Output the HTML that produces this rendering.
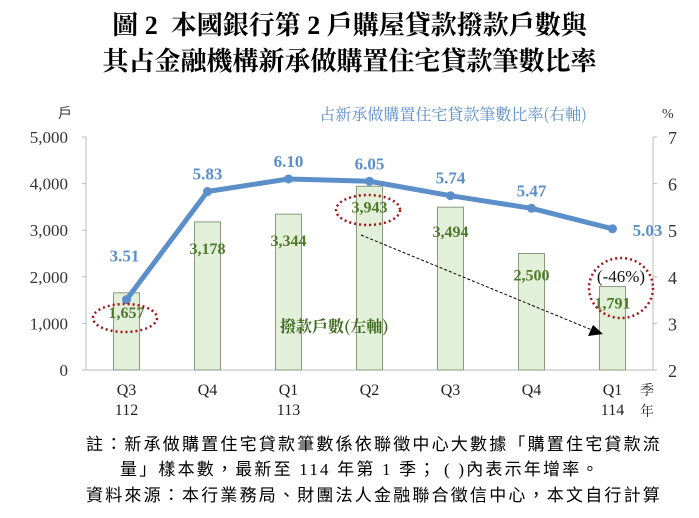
<!DOCTYPE html>
<html><head><meta charset="utf-8"><style>
body{margin:0;background:#fff;width:699px;height:518px;overflow:hidden;font-family:"Liberation Serif","Noto Serif CJK SC",serif}
.t{position:absolute;left:0;width:699px;text-align:center;font-weight:bold;font-size:26px;color:#000}
.n{position:absolute;font-size:17px;letter-spacing:2.2px;color:#000;font-family:"Liberation Serif","Noto Sans CJK TC",serif;white-space:nowrap}
</style></head><body>
<div class="t" style="top:5px">圖 2&nbsp; 本國銀行第 2 戶購屋貸款撥款戶數與</div>
<div class="t" style="top:41px">其占金融機構新承做購置住宅貸款筆數比率</div>
<svg id="c" width="699" height="518" style="position:absolute;left:0;top:0"></svg>
<div class="n" style="left:86px;top:430px">註：新承做購置住宅貸款筆數係依聯徵中心大數據「購置住宅貸款流</div>
<div class="n" style="left:120px;top:455px">量」樣本數，最新至 114 年第 1 季； ( )內表示年增率。</div>
<div class="n" style="left:86px;top:481px">資料來源：本行業務局、財團法人金融聯合徵信中心，本文自行計算</div>
<script>
const categories=["Q3","Q4","Q1","Q2","Q3","Q4","Q1"];
const years=["112","","113","","","","114"];
const counts=[1657,3178,3344,3943,3494,2500,1791];
const ratios=[3.51,5.83,6.10,6.05,5.74,5.47,5.03];
const leftTicks=[0,1000,2000,3000,4000,5000];
const rightTicks=[2,3,4,5,6,7];
const NS="http://www.w3.org/2000/svg",svg=document.getElementById('c');
const X0=86,X1=653,Y0=370,Y1=137;
const step=(X1-X0)/categories.length;
const xc=i=>X0+step*(i+0.5);
const yl=v=>Y0-(v/5000)*(Y0-Y1);
const yr=v=>Y0-((v-2)/5)*(Y0-Y1);
function mk(t,a,txt){const e=document.createElementNS(NS,t);for(const k in a)e.setAttribute(k,a[k]);if(txt!==undefined)e.textContent=txt;svg.appendChild(e);return e;}
const F='"Liberation Serif","Noto Serif CJK SC",serif';
let e;
e=mk('line',{x1:X0,y1:Y1,x2:X0,y2:Y0,stroke:'#bbb'});


e=mk('line',{x1:X1,y1:Y1,x2:X1,y2:Y0,stroke:'#bbb'});


e=mk('line',{x1:X0,y1:Y0,x2:X1,y2:Y0,stroke:'#bbb'});


leftTicks.forEach(v=>{
 e=mk('text',{x:68,y:yl(v)+6,'text-anchor':'end','font-size':17,fill:'#333','font-family':F},v.toLocaleString('en-US'));
 
 
 mk('line',{x1:X0-4,y1:yl(v),x2:X0,y2:yl(v),stroke:'#bbb'});
});
rightTicks.forEach(v=>{
 e=mk('text',{x:668,y:yr(v)+7,'font-size':18,fill:'#333','font-family':F},v);
 
 
 mk('line',{x1:X1,y1:yr(v),x2:X1+4,y2:yr(v),stroke:'#bbb'});
});
e=mk('text',{x:58,y:118,'font-size':14,fill:'#333','font-family':'"Noto Sans CJK TC",sans-serif'},'戶');


e=mk('text',{x:662,y:118,'font-size':14,fill:'#333','font-family':F},'%');


counts.forEach((v,i)=>{
 e=mk('rect',{x:xc(i)-13,y:yl(v),width:26,height:Y0-yl(v),fill:'#e2efd9',stroke:'#8a9a80','stroke-width':1});
 
 
});
counts.forEach((v,i)=>{
 const off=[25,32,32,26,30,27,22][i];
 e=mk('text',{x:xc(i),y:yl(v)+off,'text-anchor':'middle','font-size':16,'font-weight':'bold',fill:'#4e7a2a','font-family':F},v.toLocaleString('en-US'));
 
 
});
e=mk('polyline',{points:ratios.map((v,i)=>xc(i)+','+yr(v)).join(' '),fill:'none',stroke:'#5b8fc9','stroke-width':5,'stroke-linejoin':'round'});


ratios.forEach((v,i)=>{
 e=mk('circle',{cx:xc(i),cy:yr(v),r:4.5,fill:'#5b8fc9'});
 
 
 const lx=i===6?xc(i)+35:(i===0?xc(i)-2:xc(i)), ly=i===6?yr(v)+7:(i===0?yr(v)-38:yr(v)-12);
 e=mk('text',{x:lx,y:ly,'text-anchor':'middle','font-size':17,'font-weight':'bold',fill:'#5b8fc9','font-family':F},v.toFixed(2));
 
 
});
categories.forEach((c,i)=>{
 e=mk('text',{x:xc(i),y:395,'text-anchor':'middle','font-size':16,fill:'#222','font-family':F},c);
 
 
 if(years[i]){e=mk('text',{x:xc(i),y:415,'text-anchor':'middle','font-size':16,fill:'#222','font-family':F},years[i]);
 
 }
});
e=mk('text',{x:640,y:395,'font-size':14,fill:'#222','font-family':'"Noto Serif CJK SC",serif'},'季');


e=mk('text',{x:640,y:416,'font-size':14,fill:'#222','font-family':'"Noto Serif CJK SC",serif'},'年');


e=mk('text',{x:587,y:120,'text-anchor':'end','font-size':16,fill:'#5b8fc9','font-family':'"Noto Serif CJK SC",serif'},'占新承做購置住宅貸款筆數比率(右軸)');


e=mk('text',{x:280,y:332,'font-size':16,'font-weight':'bold',fill:'#3f6b1f','font-family':'"Noto Serif CJK SC",serif'},'撥款戶數(左軸)');


[[125,318,32,14],[368,210,32,15],[621,288,32,30]].forEach((a,k)=>{
 e=mk('ellipse',{cx:a[0],cy:a[1],rx:a[2],ry:a[3],fill:'none',stroke:'#a01818','stroke-width':2.5,'stroke-dasharray':'2 3'});
 
 
});
e=mk('text',{x:621,y:282,'text-anchor':'middle','font-size':17,fill:'#111','font-family':F},'(-46%)');


e=mk('line',{x1:361,y1:235,x2:592,y2:330,stroke:'#000','stroke-width':1,'stroke-dasharray':'3 2'});


e=mk('polygon',{points:'603,334 588,336 593,325',fill:'#000'});


</script>
</body></html>
